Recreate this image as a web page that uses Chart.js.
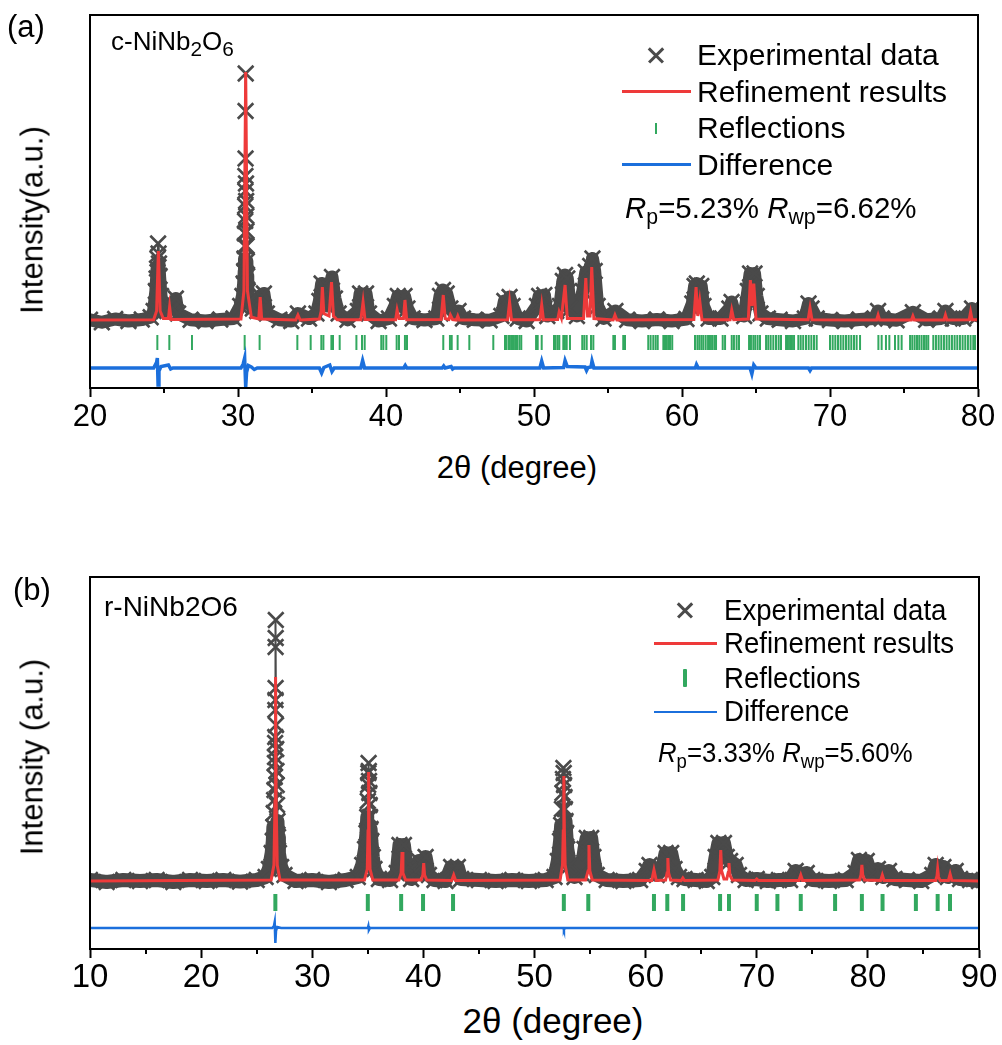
<!DOCTYPE html>
<html>
<head>
<meta charset="utf-8">
<script src="https://cdn.jsdelivr.net/npm/chart.js@4/dist/chart.umd.min.js"></script>
<style>
  body { margin: 0; background: #fff; font-family: "Liberation Sans", Arial, sans-serif; color: #000; }
  #page { position: relative; width: 1002px; height: 1045px; overflow: hidden; }
  .box { position: absolute; left: 0; width: 1002px; height: 440px; }
  .t { position: absolute; white-space: nowrap; line-height: 1; }
  .sb { position: relative; font-size: 0.72em; top: 0.3em; }
  .rot { transform: translate(-50%, -50%) rotate(-90deg); }
  .cx { transform: translate(-50%, -50%); }
  .sym { position: absolute; }
  .xm { position: absolute; width: 16px; height: 16px; }
  .xm::before, .xm::after { content: ''; position: absolute; left: -2px; top: 7px; width: 20px; height: 2.6px; background: #4a4a4a; }
  .xm::before { transform: rotate(45deg); }
  .xm::after { transform: rotate(-45deg); }
  .narrow { transform: scaleX(0.92); transform-origin: left center; }
</style>
</head>
<body>
<div id="page">
  <div class="box" style="top:0"><canvas id="chartA"></canvas></div>
  <div class="box" style="top:560px"><canvas id="chartB"></canvas></div>

  <!-- panel (a) text -->
  <div class="t" style="left:7px; top:11px; font-size:31px">(a)</div>
  <div class="t" style="left:111px; top:28px; font-size:26px">c-NiNb<span class="sb" style="font-size:0.8em">2</span>O<span class="sb" style="font-size:0.8em">6</span></div>
  <div class="t rot" style="left:32px; top:220px; font-size:31px">Intensity(a.u.)</div>
  <div class="t cx" style="left:517px; top:467px; font-size:31px">2θ (degree)</div>

  <div class="xm" style="left:648px; top:47px"></div>
  <div class="sym" style="left:622px; top:90px; width:69px; height:3px; background:#ee3a3a"></div>
  <div class="sym" style="left:655px; top:123px; width:2px; height:11px; background:#32a85f"></div>
  <div class="sym" style="left:622px; top:163px; width:69px; height:3px; background:#1b6fdc"></div>
  <div class="t" style="left:697px; top:40px; font-size:30px">Experimental data</div>
  <div class="t" style="left:697px; top:77px; font-size:30px">Refinement results</div>
  <div class="t" style="left:697px; top:113px; font-size:30px">Reflections</div>
  <div class="t" style="left:697px; top:150px; font-size:30px">Difference</div>
  <div class="t" style="left:625px; top:193px; font-size:29.5px"><i>R</i><span class="sb">p</span>=5.23% <i>R</i><span class="sb">wp</span>=6.62%</div>

  <!-- panel (b) text -->
  <div class="t" style="left:13px; top:574px; font-size:31px">(b)</div>
  <div class="t" style="left:104px; top:593px; font-size:28px">r-NiNb2O6</div>
  <div class="t rot" style="left:32px; top:757px; font-size:31px">Intensity (a.u.)</div>
  <div class="t cx" style="left:553px; top:1020px; font-size:35px">2θ (degree)</div>

  <div class="xm" style="left:677px; top:602px"></div>
  <div class="sym" style="left:654px; top:642px; width:63px; height:3px; background:#ee3a3a"></div>
  <div class="sym" style="left:683px; top:669px; width:4px; height:18px; background:#32a85f; border-radius:1px"></div>
  <div class="sym" style="left:654px; top:711px; width:63px; height:2px; background:#1b6fdc"></div>
  <div class="t narrow" style="left:724px; top:595px; font-size:30px">Experimental data</div>
  <div class="t narrow" style="left:724px; top:628px; font-size:30px">Refinement results</div>
  <div class="t narrow" style="left:724px; top:663px; font-size:30px">Reflections</div>
  <div class="t narrow" style="left:724px; top:696px; font-size:30px">Difference</div>
  <div class="t narrow" style="left:658px; top:739px; font-size:28px"><i>R</i><span class="sb">p</span>=3.33% <i>R</i><span class="sb">wp</span>=5.60%</div>
</div>

<script>
// ---- panel (a): c-NiNb2O6, 2theta 20-80 ----
const xRangeA = [20, 80];
const yRangeA = [-26.8, 122.4];
const reflRowA = -8.6;

const obsA = [
  [20.0, 0.5], [20.8, -0.5], [21.7, 0.8], [22.6, 0], [23.5, 0.6], [24.1, 1.5],
  [24.3, 4], [24.45, 12], [24.5, 17], [24.53, 21], [24.56, 25], [24.6, 31], [24.63, 27], [24.66, 23], [24.7, 18],
  [24.8, 10], [25.0, 4], [25.3, 5], [25.4, 7], [25.6, 5], [25.8, 9], [25.95, 3],
  [26.8, 0.5], [27.8, 0], [28.8, 0.6], [29.7, 1],
  [30.15, 6], [30.3, 10], [30.38, 15], [30.42, 20], [30.44, 25], [30.46, 30], [30.47, 35], [30.48, 40],
  [30.49, 46], [30.5, 52], [30.5, 58], [30.51, 65], [30.51, 84], [30.52, 99], [30.54, 55], [30.55, 48],
  [30.56, 42], [30.57, 36], [30.58, 30], [30.6, 24], [30.62, 18], [30.66, 12], [30.75, 8],
  [31.0, 5], [31.3, 4], [31.5, 10], [31.75, 11], [31.95, 3],
  [32.8, 0.5], [33.6, 0], [34.05, 3], [34.8, 1], [35.3, 3],
  [35.5, 8], [35.65, 15], [35.8, 10], [36.0, 6], [36.2, 13], [36.35, 17.6], [36.55, 9], [36.8, 3],
  [37.4, 0.5], [38.1, 4], [38.25, 11], [38.45, 7], [38.65, 11], [38.85, 3],
  [39.5, 0], [40.2, 1], [40.6, 6], [40.8, 10], [41.0, 6], [41.25, 10], [41.45, 5], [41.8, 1],
  [42.6, 0.4], [43.4, 1], [43.65, 10], [43.85, 12.4], [44.1, 11], [44.35, 5], [44.6, 3], [44.9, 4], [45.2, 1],
  [46.0, 0.5], [47.0, 0.3], [47.8, 2], [48.0, 8], [48.2, 5], [48.35, 9.6], [48.55, 6], [48.9, 1],
  [49.5, 0], [50.2, 6], [50.35, 10], [50.55, 8], [50.7, 10.4], [50.9, 2],
  [51.5, 4], [51.75, 6], [51.95, 16], [52.1, 18.4], [52.25, 17], [52.45, 5],
  [52.9, 2], [53.3, 12], [53.5, 19.6], [53.65, 14], [53.8, 22], [53.95, 25], [54.1, 20], [54.3, 6], [54.7, 1],
  [55.5, 4], [56.3, 0.5], [57.3, 0], [58.3, 0.6], [59.3, 0], [60.3, 0.8],
  [60.7, 7], [60.85, 14], [61.0, 15], [61.15, 10], [61.3, 14], [61.45, 6], [61.8, 1],
  [62.6, 1], [63.2, 5], [63.35, 7.6], [63.55, 3],
  [64.2, 2], [64.45, 12], [64.6, 19], [64.75, 15], [64.9, 19], [65.05, 10], [65.3, 3], [65.8, 1],
  [66.6, 0.5], [67.5, 0], [68.3, 1], [68.55, 7], [68.75, 5], [69.1, 1],
  [70.0, 0.4], [71.0, 0], [72.0, 0.6], [73.0, 1], [73.25, 4], [73.5, 1], [74.5, 0.3], [75.6, 3.5],
  [76.5, 0.5], [77.5, 1], [77.8, 4], [78.3, 1], [79.0, 1], [79.6, 5], [80.0, 2]
];

const calcA = [
  [20, 0.4], [24.3, 0.5], [24.5, 4], [24.62, 28], [24.74, 4], [24.95, 1], [25.3, 1], [25.38, 5.6], [25.48, 0.6],
  [30.2, 0.8], [30.4, 12], [30.52, 99.6], [30.64, 12], [30.9, 1.5], [31.4, 0.8], [31.5, 9.6], [31.6, 0.8],
  [33.9, 0.4], [34.05, 2.4], [34.2, 0.4], [35.5, 0.8], [35.62, 4], [35.7, 13.6], [35.8, 3], [36.15, 2],
  [36.32, 15.6], [36.45, 2], [36.7, 0.5], [38.3, 0.5], [38.45, 7.6], [38.58, 0.6], [40.65, 0.5], [40.75, 4.4],
  [40.88, 1], [41.18, 1], [41.28, 8.4], [41.4, 0.5], [43.72, 0.6], [43.87, 10.4], [44.0, 1], [44.25, 0.6],
  [44.35, 2.4], [44.5, 0.6], [44.75, 0.4], [44.85, 2], [44.95, 0.4], [48.22, 0.5], [48.35, 7.6], [48.48, 0.5],
  [50.4, 0.5], [50.52, 6.4], [50.64, 0.5], [51.6, 0.6], [51.7, 3.6], [51.85, 1.2], [52.1, 14.4], [52.25, 1],
  [53.35, 1], [53.5, 17.2], [53.62, 2], [53.78, 2], [53.9, 21.6], [54.05, 1], [55.35, 0.4], [55.47, 2.4],
  [55.6, 0.4], [60.8, 0.6], [60.95, 13.6], [61.07, 2], [61.2, 8], [61.35, 0.5], [63.25, 0.5], [63.36, 4.4],
  [63.5, 0.5], [64.48, 0.8], [64.62, 16.4], [64.73, 6], [64.85, 15], [65.0, 0.8], [68.52, 0.5], [68.65, 5.2],
  [68.78, 0.5], [73.15, 0.4], [73.25, 2.4], [73.35, 0.4], [75.5, 0.4], [75.6, 2], [75.7, 0.4], [77.7, 0.4],
  [77.8, 2.4], [77.9, 0.4], [79.4, 0.5], [79.5, 3.6], [79.6, 0.5], [80, 0.5]
];

const diffA = [
  [20, -18.8], [24.3, -18.8], [24.5, -16.5], [24.55, -14.8], [24.6, -25.6], [24.66, -20], [24.8, -18.2],
  [25.3, -17.6], [25.45, -19.2], [25.6, -18.8], [30.2, -18.8], [30.35, -17.2], [30.45, -14.8], [30.52, -26.4],
  [30.58, -20.5], [30.7, -17.8], [30.9, -18.4], [31.1, -19.4], [31.3, -18.8], [35.5, -18.8], [35.65, -20.8],
  [35.8, -18.6], [36.2, -17.6], [36.35, -20.2], [36.5, -18.8], [38.3, -18.8], [38.42, -15.8], [38.55, -18.8],
  [41.2, -18.8], [41.3, -17.8], [41.4, -18.8], [43.8, -18.8], [43.9, -18], [44.0, -18.8], [44.4, -18.2],
  [44.5, -19.2], [44.6, -18.8], [50.4, -18.8], [50.52, -16], [50.65, -18.8], [52.0, -18.6], [52.1, -15.8],
  [52.25, -18.2], [53.45, -18.4], [53.55, -19.8], [53.65, -18.6], [53.85, -18.4], [53.92, -16], [54.05, -18.8],
  [60.9, -18.8], [60.98, -17.4], [61.1, -18.8], [64.6, -18.8], [64.72, -21.2], [64.85, -17.6], [65.0, -18.8],
  [68.55, -18.8], [68.65, -19.8], [68.75, -18.8], [80, -18.8]
];

const reflA = [
  24.55, 25.36, 26.89, 30.45, 31.46, 34.01, 34.91, 35.63, 35.77, 36.31, 36.42, 36.87, 38.0, 38.38, 38.56,
  39.68, 39.82, 40.02, 40.72, 40.88, 41.28, 41.42, 43.87, 44.32, 44.44, 44.84, 45.63, 47.25,
  48.04, 48.15, 48.31, 48.45, 48.58, 48.72, 48.85, 49.01, 49.14, 50.14, 50.25, 50.52,
  51.35, 51.46, 51.6, 51.71, 51.98, 52.09, 52.21, 52.43, 53.26, 53.4, 53.56, 53.85, 54.01,
  55.36, 55.47, 56.03, 56.15, 57.72, 57.88, 58.06, 58.22, 58.36, 58.74, 58.85, 58.96, 59.07, 59.19, 59.34,
  60.88, 61.04, 61.17, 61.31, 61.44, 61.6, 61.76, 61.89, 62.03, 62.18, 62.3, 62.75, 62.91,
  63.36, 63.51, 63.69, 63.85, 64.53, 64.66, 64.82, 64.95, 65.11, 65.27,
  65.68, 65.83, 65.99, 66.17, 66.35, 66.53, 66.69, 67.03, 67.16, 67.3, 67.43, 67.57,
  67.86, 68.02, 68.19, 68.38, 68.56, 68.74, 68.92, 69.1,
  70.0, 70.18, 70.36, 70.54, 70.72, 70.9, 71.08, 71.26, 71.44, 71.62, 71.8, 72.03,
  73.27, 73.49, 73.78, 74.01, 74.39, 74.62, 74.84,
  75.41, 75.56, 75.72, 75.88, 76.03, 76.19, 76.35, 76.5, 76.64,
  76.98, 77.16, 77.34, 77.52, 77.7, 77.88, 78.06, 78.24, 78.42, 78.6, 78.78, 78.96, 79.14, 79.32, 79.5, 79.68, 79.8
];

// ---- panel (b): r-NiNb2O6, 2theta 10-90 ----
const xRangeB = [10, 90];
const yRangeB = [-34, 152];
const reflRowB = -10.75;

const obsB = [
  [10, 0.5], [11.5, -0.5], [13, 0.5], [14.5, 0], [16, 0.5], [17.5, -0.5], [19, 0.5], [20.5, 0], [22, 0.5],
  [23.5, -0.3], [25, 0.5], [25.8, 2],
  [26.1, 6], [26.35, 14], [26.45, 20], [26.5, 27], [26.54, 34], [26.57, 40.5], [26.6, 45.5], [26.62, 52],
  [26.64, 59], [26.65, 62], [26.66, 69], [26.67, 72], [26.68, 85.5], [26.69, 90.5], [26.7, 96.5], [26.7, 117],
  [26.71, 121.5], [26.72, 130.5], [26.74, 78], [26.76, 66], [26.78, 55], [26.8, 48], [26.83, 38], [26.87, 30],
  [26.92, 22], [27.0, 14], [27.2, 7], [27.5, 3],
  [28.5, 0], [30, 0.5], [31.5, -0.5], [33, 0.5], [34.1, 2],
  [34.5, 8], [34.75, 16], [34.88, 24], [34.95, 32], [35.0, 40], [35.03, 48], [35.05, 54], [35.07, 59],
  [35.09, 55], [35.11, 50], [35.14, 44], [35.17, 38], [35.2, 32], [35.25, 26], [35.32, 20], [35.45, 12],
  [35.6, 6], [36.0, 1],
  [37.0, 0.5], [37.6, 4], [37.85, 18], [38.05, 12], [38.25, 18], [38.5, 6], [38.9, 1],
  [39.4, 5], [39.6, 10], [39.9, 8], [40.2, 12], [40.5, 3], [41, 0.5],
  [42.0, 0], [42.5, 7], [42.8, 4], [43.1, 7], [43.4, 1], [45, 0.5], [46.5, 0], [48, 0.5], [49.5, 0], [51, 0.5], [51.8, 2],
  [52.1, 10], [52.3, 20], [52.4, 28], [52.47, 36], [52.52, 44], [52.56, 51], [52.6, 56.5], [52.63, 54],
  [52.66, 48], [52.7, 42], [52.74, 36], [52.79, 30], [52.85, 24], [52.95, 16], [53.2, 8], [53.6, 2],
  [54.2, 4], [54.5, 16], [54.7, 21.5], [54.9, 14], [55.1, 21.5], [55.3, 12], [55.6, 3], [56.5, 0.5], [58, 0], [59.5, 0.5],
  [60.1, 5], [60.35, 8], [60.7, 6], [61.0, 3], [61.5, 6], [61.8, 14], [62.05, 10], [62.3, 14], [62.6, 6], [63.0, 2],
  [63.5, 1], [64.5, 0.5], [65.5, 0], [66.0, 2],
  [66.3, 12], [66.55, 19], [66.8, 14], [67.05, 19], [67.3, 12], [67.6, 10], [68.1, 8], [68.4, 3], [69, 0.5], [70, 1],
  [71, 0], [72, 0.5], [73.0, 0.5], [73.5, 5], [73.9, 3], [74.5, 4], [75, 0.5], [76.5, 0], [78, 0.5],
  [78.9, 4], [79.2, 10.5], [79.5, 7], [79.9, 10], [80.3, 3], [80.9, 6], [81.4, 2], [81.9, 5], [82.4, 1],
  [83.5, 0.5], [84.8, 0], [85.8, 3], [86.1, 8], [86.4, 4], [86.8, 7], [87.2, 2], [87.9, 5], [88.3, 1], [89.2, 0.5], [90, 0]
];

const calcB = [
  [10, 0], [26.3, 0.5], [26.55, 8], [26.65, 40], [26.7, 102], [26.75, 40], [26.85, 8], [27.1, 0.5],
  [34.7, 0.5], [34.95, 6], [35.02, 25], [35.07, 54.5], [35.12, 25], [35.2, 6], [35.45, 0.5],
  [37.8, 0.5], [38.0, 4], [38.08, 14.5], [38.16, 4], [38.4, 0.5],
  [39.8, 0.5], [39.95, 3], [40.03, 9], [40.11, 3], [40.3, 0.5], [42.55, 0.3], [42.73, 3], [42.9, 0.3],
  [52.3, 0.5], [52.52, 8], [52.59, 25], [52.64, 52.5], [52.69, 25], [52.76, 8], [53.0, 0.5],
  [54.6, 0.5], [54.82, 5], [54.9, 18], [54.98, 5], [55.2, 0.5],
  [60.55, 0.3], [60.75, 5.5], [60.95, 0.3], [61.8, 0.5], [61.93, 4], [62.0, 11.5], [62.07, 4], [62.25, 0.5],
  [63.2, 0.2], [63.35, 1.5], [63.5, 0.2],
  [66.5, 0.5], [66.68, 5], [66.76, 15.5], [66.84, 5], [67.05, 1], [67.3, 1], [67.42, 4], [67.5, 9], [67.58, 3], [67.8, 0.5],
  [69.85, 0.2], [70.0, 1], [70.15, 0.2], [73.8, 0.3], [73.96, 3], [74.12, 0.3],
  [79.25, 0.5], [79.38, 3], [79.46, 8], [79.54, 3], [79.7, 0.5], [81.15, 0.3], [81.3, 3], [81.45, 0.3],
  [86.1, 0.3], [86.22, 2.5], [86.28, 6], [86.36, 2], [86.5, 0.3], [87.25, 0.3], [87.4, 3.5], [87.55, 0.3], [90, 0]
];

const diffB = [
  [10, -23.5], [26.4, -23.5], [26.55, -22.5], [26.62, -20.5], [26.68, -31], [26.74, -25], [26.85, -23],
  [27.2, -23.5], [35.0, -23.5], [35.05, -22.5], [35.1, -24.5], [35.2, -23.5], [52.6, -23.5], [52.65, -24.5],
  [52.72, -23.5], [90, -23.5]
];

const reflB = [
  26.68, 35.0, 38.0, 39.97, 42.67, 52.64, 54.84, 60.75, 61.95, 63.37, 66.7, 67.5, 70.0, 71.86,
  73.96, 77.05, 79.46, 81.32, 84.32, 86.28, 87.39
];

const GRAY = '#4a4a4a';
const RED = '#ee3a3a';
const GREEN = '#32a85f';
const BLUE = '#1b6fdc';

Chart.defaults.font.family = '"Liberation Sans", Arial, sans-serif';
Chart.defaults.color = '#000';

const toXY = arr => arr.map(([x, y]) => ({ x, y }));

// frame around the plot area plus short minor ticks every 5 degrees
const framePlugin = {
  id: 'frame',
  afterDraw(chart) {
    const { ctx, chartArea: a, scales: { x } } = chart;
    ctx.save();
    ctx.strokeStyle = '#000';
    ctx.lineWidth = 2;
    ctx.strokeRect(a.left, a.top, a.right - a.left, a.bottom - a.top);
    ctx.beginPath();
    for (let v = x.min + 5; v < x.max; v += 10) {
      const px = Math.round(x.getPixelForValue(v));
      ctx.moveTo(px, a.bottom);
      ctx.lineTo(px, a.bottom + 5);
    }
    ctx.stroke();
    ctx.restore();
  }
};

function makeChart(id, o) {
  return new Chart(document.getElementById(id), {
    type: 'scatter',
    data: {
      datasets: [
        { label: 'Refinement results', data: toXY(o.calc), showLine: true, borderColor: RED, borderWidth: 3,
          pointRadius: 0, tension: 0, order: 0 },
        { label: 'Difference', data: toXY(o.diff), showLine: true, borderColor: BLUE, borderWidth: o.diffWidth,
          pointRadius: 0, tension: 0, order: 1 },
        { label: 'Reflections', data: o.refl.map(x => ({ x, y: o.reflRow })), showLine: false,
          pointStyle: 'line', rotation: 90, pointRadius: o.tickR, pointBorderWidth: o.tickW,
          pointBorderColor: GREEN, order: 2 },
        { label: 'Experimental data', data: toXY(o.obs), showLine: true, borderColor: GRAY, borderWidth: o.band,
          borderJoinStyle: 'round', borderCapStyle: 'round', tension: 0,
          // the dense markers merge into a thick band; up the tall peaks they stand apart
          segment: {
            borderWidth: ctx => (ctx.p0.parsed.y > o.sparseAbove && ctx.p1.parsed.y > o.sparseAbove) ? 2 : o.band
          },
          pointStyle: 'crossRot', pointRadius: 11, pointBorderWidth: 2.6, pointBorderColor: GRAY, order: 3 }
      ]
    },
    options: {
      responsive: true,
      maintainAspectRatio: false,
      animation: false,
      events: [],
      layout: { padding: { left: 90, right: o.padRight, top: o.padTop, bottom: 0 } },
      plugins: { legend: { display: false }, tooltip: { enabled: false } },
      scales: {
        x: {
          type: 'linear', position: 'bottom', min: o.xRange[0], max: o.xRange[1],
          ticks: { stepSize: 10, autoSkip: false, maxRotation: 0, padding: o.tickPad,
                   font: { size: o.tickFont }, color: '#000' },
          grid: { drawOnChartArea: false, drawTicks: true, tickLength: 9, tickWidth: 2, tickColor: '#000' },
          border: { display: true, color: '#000', width: 2 },
          afterFit(scale) { scale.height = o.axisH; }
        },
        y: { display: false, min: o.yRange[0], max: o.yRange[1] }
      }
    },
    plugins: [framePlugin]
  });
}

makeChart('chartA', {
  calc: calcA, diff: diffA, refl: reflA, obs: obsA, reflRow: reflRowA,
  xRange: xRangeA, yRange: yRangeA, tickR: 7.5, tickW: 2, band: 13, diffWidth: 3.5, sparseAbove: 20,
  padTop: 15, padRight: 24, axisH: 52, tickFont: 31, tickPad: 2
});

makeChart('chartB', {
  calc: calcB, diff: diffB, refl: reflB, obs: obsB, reflRow: reflRowB,
  xRange: xRangeB, yRange: yRangeB, tickR: 8.5, tickW: 4, band: 14, diffWidth: 2.5, sparseAbove: 25,
  padTop: 17, padRight: 23, axisH: 51, tickFont: 33, tickPad: 0
});
</script>
</body>
</html>
